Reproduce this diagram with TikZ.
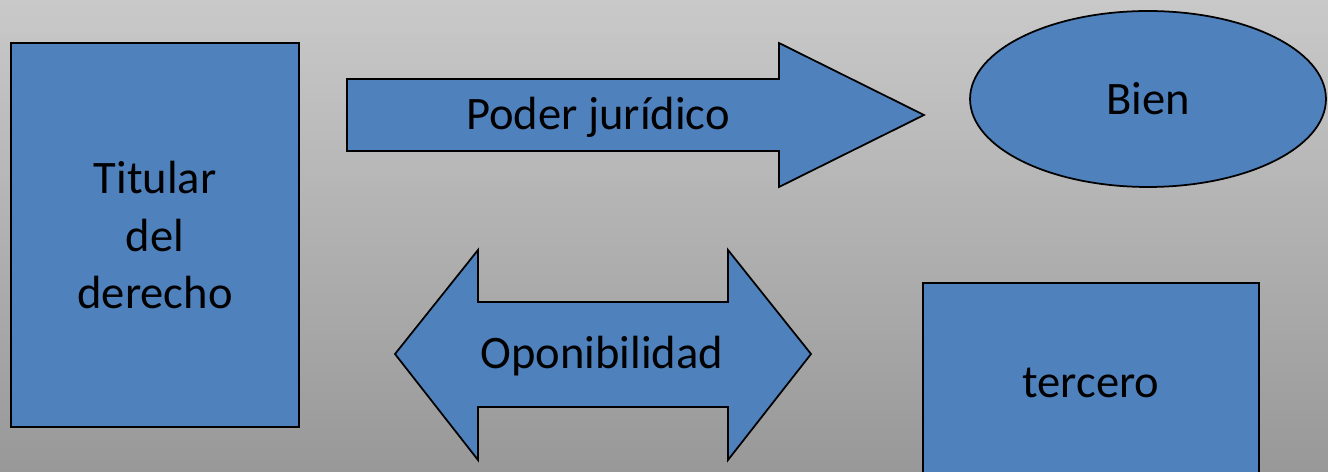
\documentclass[tikz,border=0pt]{standalone}
\usepackage{fontspec}
\setmainfont{Carlito}
\usepackage{tikz}
\usetikzlibrary{shapes.geometric}
\definecolor{azul}{RGB}{79,129,189}
\definecolor{fondoarriba}{RGB}{201,201,201}
\definecolor{fondoabajo}{RGB}{152,152,152}
\tikzset{
    caja/.style={draw=black, line width=1pt, fill=azul, inner sep=0pt, align=center},
    elipse/.style={caja, ellipse},
    flecha/.style={draw=black, line width=1pt, fill=azul},
    texto/.style={inner sep=0pt, anchor=base},
}

\begin{document}
\begin{tikzpicture}[x=0.02cm, y=-0.02cm, font=\fontsize{26.5}{32.6}\selectfont]
% Fondo
\useasboundingbox (0,0) rectangle (1328,472);
\clip (0,0) rectangle (1328,472);
\shade[top color=fondoarriba, bottom color=fondoabajo] (0,0) rectangle (1328,472);

% Titular, bien y tercero
\node[caja, minimum width=5.76cm, minimum height=7.68cm] (titular) at (155,235) {Titular\\del\\derecho};
\node[elipse, minimum width=7.12cm, minimum height=3.52cm] (bien) at (1148,99) {Bien};
\node[caja, minimum width=6.72cm, minimum height=4cm] (tercero) at (1091,383) {tercero};

% Flecha : poder jurídico
\draw[flecha] (347,79) -- (779,79) -- (779,43) -- (924,115) -- (779,187) -- (779,151) -- (347,151) -- cycle;
\node[texto] (poder) at (598,130) {Poder jurídico};

% Flecha doble : oponibilidad
\draw[flecha] (395,354) -- (478,250) -- (478,302) -- (728,302) -- (728,250) -- (811,354)
    -- (728,460) -- (728,407) -- (478,407) -- (478,460) -- cycle;
\node[texto] (oponibilidad) at (602,369) {Oponibilidad};
\end{tikzpicture}
\end{document}
